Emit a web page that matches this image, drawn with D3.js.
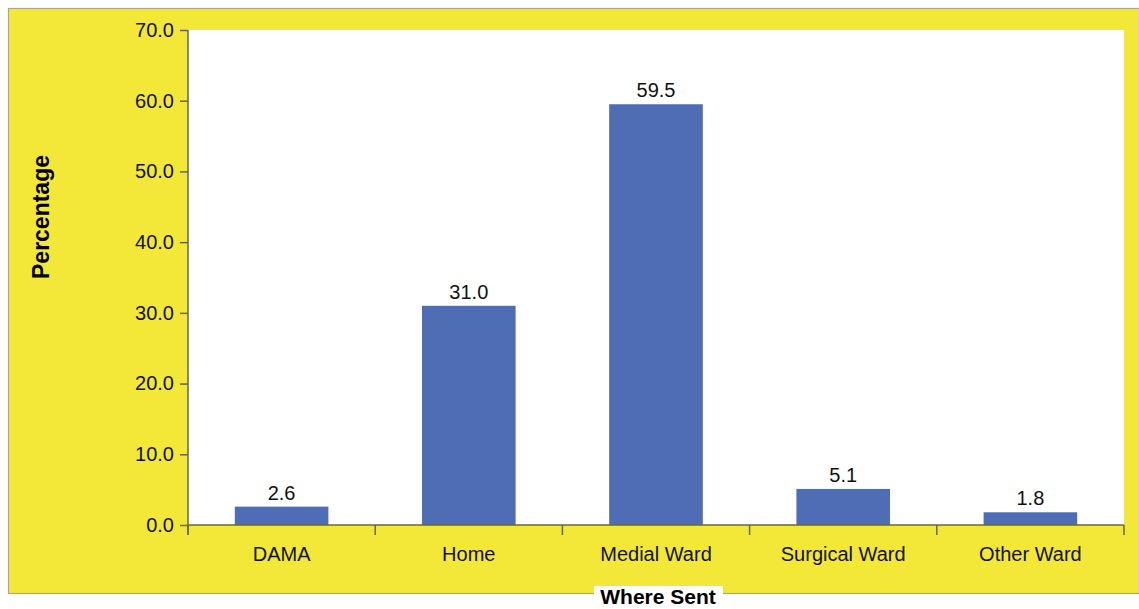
<!DOCTYPE html>
<html>
<head>
<meta charset="utf-8">
<script src="https://cdn.jsdelivr.net/npm/d3@7"></script>
<style>
  html, body { margin: 0; padding: 0; background: #ffffff; }
  svg { display: block; font-family: "Liberation Sans", Arial, sans-serif; }
</style>
</head>
<body>
<svg id="chart" width="1139" height="609"></svg>
<script>
// Patient disposition: where patients were sent
const categories = ["DAMA", "Home", "Medial Ward", "Surgical Ward", "Other Ward"];
const percentages = [2.6, 31.0, 59.5, 5.1, 1.8];
const yTicks = [0, 10, 20, 30, 40, 50, 60, 70];

const svg = d3.select("#chart");
const W = 1139, H = 609;

// Yellow backdrop panel
svg.append("rect")
  .attr("x", 8.5).attr("y", 8.5)
  .attr("width", W - 8).attr("height", 585)
  .attr("fill", "#f3e838")
  .attr("stroke", "#a9a98a").attr("stroke-width", 1.2);

const plot = { left: 188, right: 1124, top: 30, bottom: 525 };

const x = d3.scaleBand()
  .domain(categories)
  .range([plot.left, plot.right])
  .paddingInner(0.5).paddingOuter(0.25);

const y = d3.scaleLinear()
  .domain([0, 70])
  .range([plot.bottom, plot.top]);

// White plotting area
svg.append("rect")
  .attr("x", plot.left).attr("y", plot.top)
  .attr("width", plot.right - plot.left)
  .attr("height", plot.bottom - plot.top)
  .attr("fill", "#ffffff");

// Bars
svg.append("g").selectAll("rect")
  .data(categories)
  .join("rect")
  .attr("x", d => x(d))
  .attr("y", (d, i) => y(percentages[i]))
  .attr("width", x.bandwidth())
  .attr("height", (d, i) => y(0) - y(percentages[i]))
  .attr("fill", "#4f6db5");

// Value labels
svg.append("g").selectAll("text")
  .data(categories)
  .join("text")
  .attr("x", d => x(d) + x.bandwidth() / 2)
  .attr("y", (d, i) => y(percentages[i]) - 7)
  .attr("text-anchor", "middle")
  .attr("font-size", 20)
  .attr("fill", "#111")
  .text((d, i) => percentages[i].toFixed(1));

const axisColor = "#66664a";

// Y axis
const yAxis = d3.axisLeft(y)
  .tickValues(yTicks)
  .tickFormat(d3.format(".1f"))
  .tickSize(8)
  .tickPadding(6);
const gy = svg.append("g")
  .attr("transform", `translate(${plot.left},0)`)
  .call(yAxis)
  .attr("font-size", 20)
  .attr("font-family", "Liberation Sans, Arial, sans-serif");
gy.select(".domain").remove();
gy.append("line")
  .attr("x1", 0).attr("x2", 0)
  .attr("y1", plot.top).attr("y2", plot.bottom + 10)
  .attr("stroke", axisColor).attr("stroke-width", 1.5);
gy.selectAll(".tick line").attr("stroke", axisColor).attr("stroke-width", 1.5);
gy.selectAll(".tick text").attr("fill", "#111");

// X axis: ticks at category boundaries
const boundaries = d3.range(categories.length + 1)
  .map(i => plot.left + i * (plot.right - plot.left) / categories.length);

const gx = svg.append("g");
gx.append("line")
  .attr("x1", plot.left).attr("x2", plot.right)
  .attr("y1", plot.bottom).attr("y2", plot.bottom)
  .attr("stroke", axisColor).attr("stroke-width", 1.5);
gx.selectAll("line.tk")
  .data(boundaries)
  .join("line")
  .attr("class", "tk")
  .attr("x1", d => d).attr("x2", d => d)
  .attr("y1", plot.bottom).attr("y2", plot.bottom + 10)
  .attr("stroke", axisColor).attr("stroke-width", 1.5);
gx.selectAll("text")
  .data(categories)
  .join("text")
  .attr("x", d => x(d) + x.bandwidth() / 2)
  .attr("y", 561)
  .attr("text-anchor", "middle")
  .attr("font-size", 20)
  .attr("fill", "#111")
  .text(d => d);

// Axis titles
svg.append("text")
  .attr("transform", "translate(49,217) rotate(-90)")
  .attr("text-anchor", "middle")
  .attr("font-size", 23)
  .attr("font-weight", "bold")
  .attr("fill", "#000")
  .text("Percentage");

const xt = svg.append("g");
xt.append("rect")
  .attr("x", 594).attr("y", 586)
  .attr("width", 129).attr("height", 23)
  .attr("fill", "#ffffff");
xt.append("text")
  .attr("x", 658).attr("y", 604)
  .attr("text-anchor", "middle")
  .attr("font-size", 21)
  .attr("font-weight", "bold")
  .attr("fill", "#000")
  .text("Where Sent");
</script>
</body>
</html>
